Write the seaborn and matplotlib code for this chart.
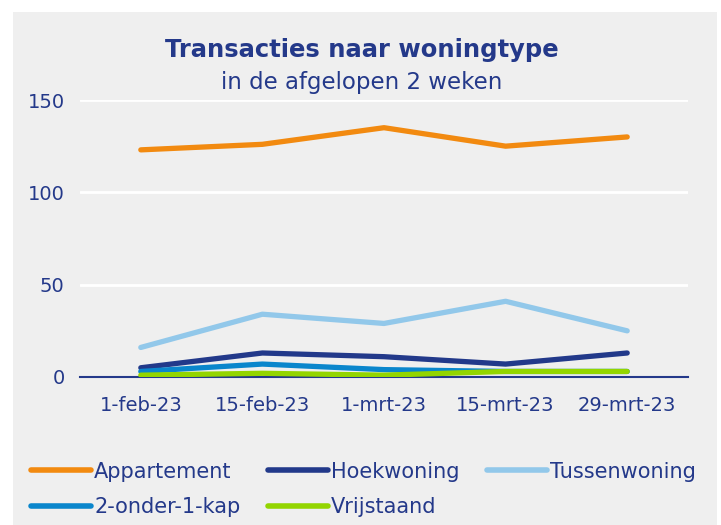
import pandas as pd
import matplotlib.pyplot as plt
import seaborn as sns
from matplotlib.patches import Rectangle

# Data
datums = ['1-feb-23', '15-feb-23', '1-mrt-23', '15-mrt-23', '29-mrt-23']
appartement = [123, 126, 135, 125, 130]
hoekwoning = [5, 13, 11, 7, 13]
tussenwoning = [16, 34, 29, 41, 25]
twee_onder_een_kap = [3, 7, 4, 3, 3]
vrijstaand = [1, 2, 1, 3, 3]

types = ['Appartement', 'Hoekwoning', 'Tussenwoning', '2-onder-1-kap', 'Vrijstaand']
kleuren = ['#F28A10', '#22398A', '#92C8EA', '#0A86CC', '#93D500']
reeksen = [appartement, hoekwoning, tussenwoning, twee_onder_een_kap, vrijstaand]

df = pd.DataFrame({
    'Datum': datums * len(types),
    'Aantal': [v for r in reeksen for v in r],
    'Type': [t for t in types for _ in datums],
})

tekst = '#24398A'
bg = '#EFEFEF'

sns.set_style('white')
plt.rcParams['font.family'] = ['DejaVu Sans']

fig = plt.figure(figsize=(7.21, 5.25), dpi=100)
fig.patch.set_facecolor('white')
fig.patches.append(Rectangle((13 / 721, 0), 704 / 721, 1 - 12 / 525,
                             transform=fig.transFigure, facecolor=bg,
                             edgecolor='none', zorder=-10))

ax = fig.add_axes([80 / 721, 1 - 377 / 525, 608 / 721, 277 / 525])
ax.set_zorder(5)
ax.set_facecolor(bg)

sns.lineplot(data=df, x='Datum', y='Aantal', hue='Type', palette=kleuren,
             sort=False, linewidth=3.8, ax=ax, legend=True)
for line in ax.get_lines():
    line.set_solid_capstyle('round')
    line.set_solid_joinstyle('round')

ax.set_ylim(0, 150)
ax.set_xlim(-0.5, len(datums) - 0.5)
ax.set_yticks([0, 50, 100, 150])
ax.yaxis.grid(True, color='white', linewidth=2)
ax.set_axisbelow(True)
for s in ['top', 'right', 'left']:
    ax.spines[s].set_visible(False)
ax.spines['bottom'].set_color(tekst)
ax.spines['bottom'].set_linewidth(1.5)
ax.spines['bottom'].set_zorder(1)
ax.tick_params(axis='both', length=0, labelsize=14, labelcolor=tekst)
ax.tick_params(axis='y', pad=11)
ax.tick_params(axis='x', pad=14)
ax.set_xlabel('')
ax.set_ylabel('')

# legenda rij voor rij: volgorde omzetten voor kolomsgewijze vulling
handles, labels = ax.get_legend_handles_labels()
ax.get_legend().remove()
volgorde = [0, 3, 1, 4, 2]
leg = fig.legend([handles[i] for i in volgorde], [labels[i] for i in volgorde],
                 ncol=3, loc='upper left',
                 bbox_to_anchor=(12 / 721, 1 - 443 / 525), frameon=False,
                 fontsize=15, handlelength=2.9, handletextpad=0.15,
                 columnspacing=1.3, labelspacing=0.75)
for t in leg.get_texts():
    t.set_color(tekst)
for h in leg.get_lines():
    h.set_linewidth(4)
    h.set_solid_capstyle('round')

fig.text(362 / 721, 1 - 50 / 525, 'Transacties naar woningtype', ha='center',
         va='center', fontsize=17.5, fontweight='bold', color=tekst)
fig.text(362 / 721, 1 - 83 / 525, 'in de afgelopen 2 weken', ha='center',
         va='center', fontsize=16.5, color=tekst)

plt.savefig('out.png', dpi=100, facecolor=fig.get_facecolor())
